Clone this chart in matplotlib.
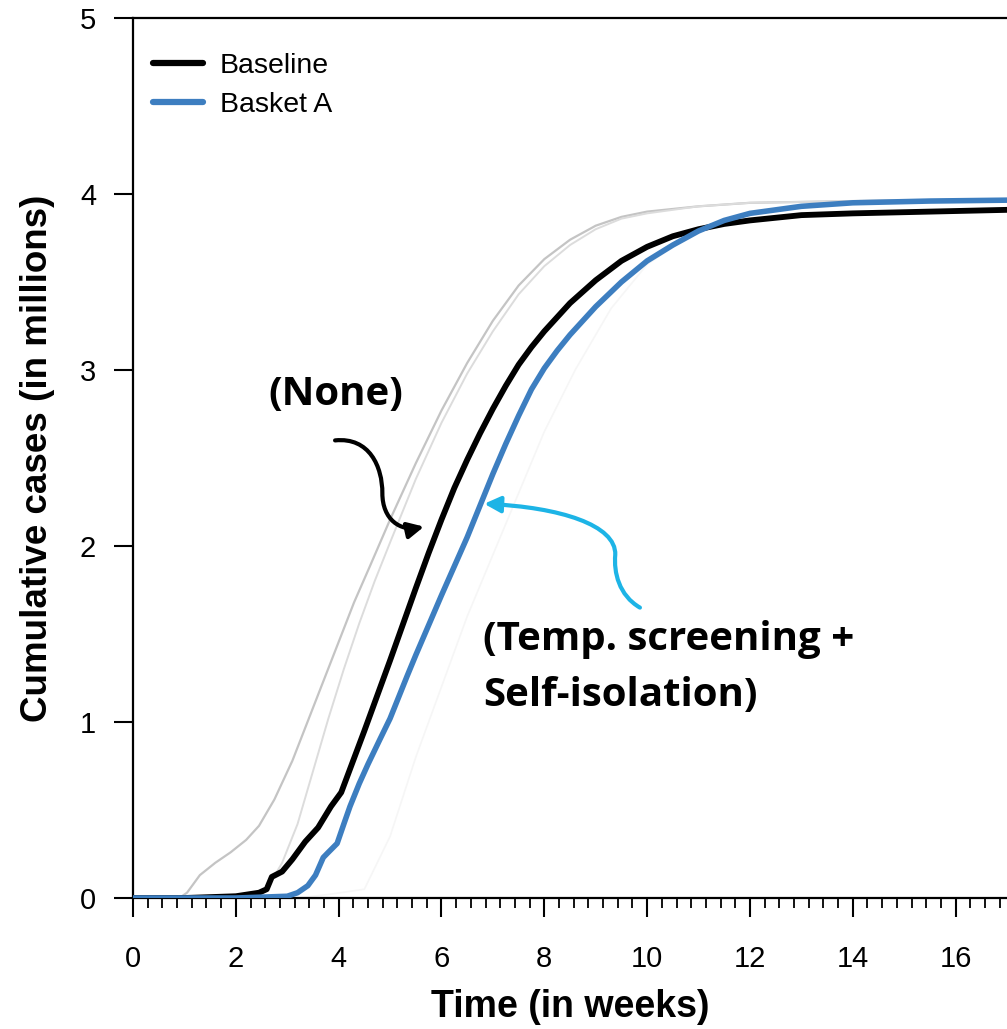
import matplotlib
matplotlib.use("Agg")
import matplotlib.pyplot as plt
from matplotlib.ticker import MultipleLocator
from matplotlib.patches import FancyArrowPatch
from matplotlib.path import Path

# Baseline (no intervention)
baseline_weeks = [0, 1.0, 2.0, 2.45, 2.6, 2.7, 2.9, 3.1, 3.35, 3.6, 3.85, 4.05, 4.5, 5.0, 5.5,
                  5.75, 6.0, 6.25, 6.5, 6.75, 7.0, 7.25, 7.5, 7.75, 8.0, 8.5, 9.0, 9.5, 10.0,
                  10.5, 11.0, 11.5, 12.0, 13.0, 14.0, 15.5, 17.0]
baseline_cases = [0, 0, 0.01, 0.03, 0.05, 0.12, 0.15, 0.22, 0.32, 0.40, 0.52, 0.60, 0.95, 1.35, 1.76,
                  1.96, 2.15, 2.33, 2.49, 2.64, 2.78, 2.91, 3.03, 3.13, 3.22, 3.38, 3.51, 3.62, 3.70,
                  3.76, 3.80, 3.83, 3.85, 3.88, 3.89, 3.90, 3.91]

# Basket A (temp. screening + self-isolation)
basket_weeks = [0, 2.0, 3.0, 3.2, 3.4, 3.55, 3.7, 3.8, 3.97, 4.1, 4.22, 4.4, 4.57, 4.8, 5.0, 5.33,
                5.5, 6.0, 6.5, 6.75, 7.0, 7.25, 7.5, 7.75, 8.0, 8.25, 8.5, 8.75, 9.0, 9.5, 10.0,
                10.5, 11.0, 11.5, 12.0, 13.0, 14.0, 15.5, 17.0]
basket_cases = [0, 0, 0.01, 0.03, 0.07, 0.13, 0.23, 0.26, 0.31, 0.42, 0.52, 0.65, 0.76, 0.90, 1.02, 1.26,
                1.38, 1.72, 2.05, 2.23, 2.41, 2.58, 2.74, 2.89, 3.01, 3.11, 3.20, 3.28, 3.36, 3.50, 3.62,
                3.71, 3.79, 3.85, 3.89, 3.93, 3.95, 3.96, 3.965]

# faint grey ensemble runs
grey1_weeks = [0, 0.9, 1.05, 1.3, 1.6, 1.9, 2.2, 2.45, 2.75, 3.1, 3.5, 3.9, 4.3, 4.6, 5.0, 5.5,
               6.0, 6.5, 7.0, 7.5, 8.0, 8.5, 9.0, 9.5, 10.0, 11.0, 12.0, 14.0, 17.0]
grey1_cases = [0, 0, 0.03, 0.13, 0.20, 0.26, 0.33, 0.41, 0.56, 0.78, 1.08, 1.38, 1.68, 1.88, 2.15, 2.47,
               2.77, 3.04, 3.28, 3.48, 3.63, 3.74, 3.82, 3.87, 3.90, 3.93, 3.95, 3.96, 3.97]
grey2_weeks = [0, 2.3, 2.6, 2.9, 3.2, 3.5, 3.8, 4.1, 4.4, 4.7, 5.0, 5.5, 6.0, 6.5, 7.0, 7.5,
               8.0, 8.5, 9.0, 9.5, 10.0, 11.0, 12.0, 14.0, 17.0]
grey2_cases = [0, 0, 0.05, 0.20, 0.42, 0.72, 1.02, 1.30, 1.56, 1.80, 2.02, 2.38, 2.70, 2.98, 3.22, 3.43,
               3.59, 3.71, 3.80, 3.86, 3.89, 3.93, 3.95, 3.96, 3.97]
grey3_weeks = [0, 3.2, 3.8, 4.5, 5.0, 5.5, 6.0, 6.5, 7.0, 7.5, 8.0, 8.6, 9.3, 10.0, 11.0, 12.0, 14.0, 17.0]
grey3_cases = [0, 0, 0.02, 0.05, 0.35, 0.80, 1.20, 1.60, 1.95, 2.30, 2.65, 3.00, 3.35, 3.60, 3.80, 3.90, 3.95, 3.97]

fig = plt.figure(figsize=(10.07, 10.29), dpi=100)
ax = fig.add_axes([0.1321, 0.1273, 0.8679, 0.8552])

ax.plot(grey1_weeks, grey1_cases, color="#c4c4c4", lw=1.6, zorder=1)
ax.plot(grey2_weeks, grey2_cases, color="#dcdcdc", lw=1.4, zorder=1)
ax.plot(grey3_weeks, grey3_cases, color="#f6f6f6", lw=1.2, zorder=1)

ax.plot(baseline_weeks, baseline_cases, color="black", lw=4.2, label="Baseline", zorder=3,
        solid_capstyle="round", solid_joinstyle="round")
ax.plot(basket_weeks, basket_cases, color="#3d7ec0", lw=4.0, label="Basket A", zorder=4,
        solid_capstyle="round", solid_joinstyle="round")

ax.set_xlim(0, 17)
ax.set_ylim(0, 5)
ax.set_xticks(range(0, 17, 2))
ax.set_yticks(range(0, 6))
ax.xaxis.set_minor_locator(MultipleLocator(2 / 7))

for side in ["left", "bottom", "top"]:
    ax.spines[side].set_linewidth(1.6)
ax.spines["right"].set_visible(False)

ax.tick_params(axis="both", which="major", direction="out", length=13.5, width=1.5)
ax.tick_params(axis="x", which="minor", direction="out", length=7, width=1.3)
ax.tick_params(axis="x", which="major", pad=20)
ax.tick_params(axis="y", which="major", pad=13)
for lbl in ax.get_xticklabels() + ax.get_yticklabels():
    lbl.set_fontfamily("Liberation Sans")
    lbl.set_fontsize(21)

ax.set_xlabel("Time (in weeks)", fontfamily="Liberation Sans", fontweight="bold", fontsize=27, labelpad=12)
ax.set_ylabel("Cumulative cases (in millions)", fontfamily="Liberation Sans", fontweight="bold", fontsize=26.5,
              labelpad=18)

leg = ax.legend(loc="upper left", bbox_to_anchor=(0.023, 0.96), frameon=False, borderpad=0,
                borderaxespad=0, handlelength=1.75, handletextpad=0.6, labelspacing=0.45,
                prop={"family": "Liberation Sans", "size": 20.5})
for line in leg.get_lines():
    line.set_linewidth(4.5)

# annotations
note_font = {"family": "Open Sans", "weight": "bold", "size": 29}
ax.text(2.63, 2.86, "(None)", ha="left", va="center", **note_font)
ax.text(6.81, 1.47, "(Temp. screening +", ha="left", va="center", **note_font)
ax.text(6.81, 1.15, "Self-isolation)", ha="left", va="center", **note_font)

black_path = Path([(3.93, 2.60), (4.6, 2.62), (4.85, 2.45), (4.85, 2.30),
                   (4.85, 2.15), (5.2, 2.08), (5.66, 2.11)],
                  [Path.MOVETO, Path.CURVE4, Path.CURVE4, Path.CURVE4,
                   Path.CURVE4, Path.CURVE4, Path.CURVE4])
ax.add_patch(FancyArrowPatch(path=black_path, arrowstyle="-|>", mutation_scale=24,
                             color="black", lw=3, zorder=5))

cyan_path = Path([(9.86, 1.65), (9.45, 1.72), (9.35, 1.85), (9.38, 1.95),
                  (9.4, 2.12), (8.3, 2.22), (6.83, 2.24)],
                 [Path.MOVETO, Path.CURVE4, Path.CURVE4, Path.CURVE4,
                  Path.CURVE4, Path.CURVE4, Path.CURVE4])
ax.add_patch(FancyArrowPatch(path=cyan_path, arrowstyle="-|>", mutation_scale=24,
                             color="#1db4e6", lw=3, zorder=5))

fig.savefig("out.png", dpi=100)
